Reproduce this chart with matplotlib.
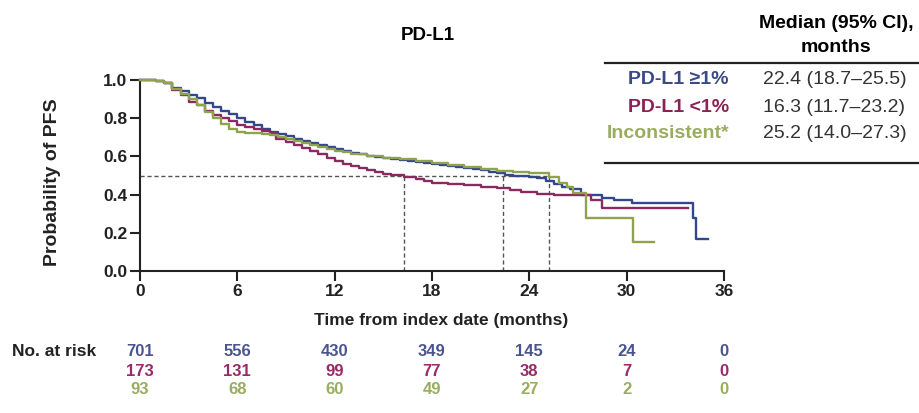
import matplotlib
matplotlib.use("Agg")
import matplotlib.pyplot as plt
from matplotlib.transforms import blended_transform_factory

plt.rcParams["font.family"] = ["Liberation Sans", "DejaVu Sans"]

# Kaplan-Meier step estimates (months, survival probability)
t_pos = [0, 1, 1.5, 2, 2.5, 3, 3.5, 4, 4.5, 5, 5.5, 6, 6.5, 7, 7.5, 8, 8.5, 9, 9.5, 10,
         10.5, 11, 11.5, 12, 12.5, 13, 13.5, 14, 14.5, 15, 15.5, 16, 16.5, 17, 17.5, 18,
         18.5, 19, 19.5, 20, 20.5, 21, 21.5, 22, 22.5, 23, 23.5, 24, 24.5, 25, 25.5, 26,
         26.5, 27.2, 28.5, 29.2, 30.3, 34.1, 34.3, 35.0]
s_pos = [1.0, 0.995, 0.985, 0.96, 0.94, 0.92, 0.905, 0.88, 0.86, 0.84, 0.82, 0.80, 0.78,
         0.765, 0.745, 0.73, 0.715, 0.705, 0.69, 0.68, 0.67, 0.66, 0.65, 0.64, 0.63, 0.62,
         0.61, 0.60, 0.595, 0.59, 0.585, 0.58, 0.575, 0.57, 0.565, 0.56, 0.555, 0.55, 0.545,
         0.54, 0.535, 0.53, 0.52, 0.515, 0.505, 0.50, 0.495, 0.49, 0.485, 0.47, 0.455, 0.44,
         0.43, 0.40, 0.38, 0.37, 0.355, 0.28, 0.17, 0.17]

t_neg = [0, 1, 1.5, 2, 2.5, 3, 3.5, 4, 4.5, 5, 5.5, 6, 6.5, 7, 7.5, 8, 8.4, 9, 9.5, 10,
         10.5, 11, 11.5, 12, 12.5, 13, 13.5, 14, 14.5, 15, 15.5, 16.3, 17, 17.5, 18, 19,
         20, 21, 22, 22.8, 23.5, 24.5, 25.5, 27.8, 28.5, 33.8]
s_neg = [1.0, 0.995, 0.985, 0.95, 0.92, 0.885, 0.87, 0.84, 0.815, 0.80, 0.785, 0.765,
         0.755, 0.745, 0.735, 0.725, 0.69, 0.675, 0.66, 0.645, 0.63, 0.61, 0.59, 0.575,
         0.56, 0.55, 0.54, 0.53, 0.52, 0.51, 0.505, 0.49, 0.48, 0.47, 0.46, 0.455, 0.45,
         0.44, 0.435, 0.425, 0.415, 0.405, 0.40, 0.37, 0.33, 0.33]

t_inc = [0, 1, 1.5, 2, 2.5, 3, 3.5, 4, 4.5, 5, 5.5, 6, 6.5, 7, 7.5, 8, 8.5, 9, 9.5, 10,
         10.5, 11, 11.5, 12, 12.5, 13, 13.5, 14, 15, 16, 17, 18, 19, 20, 21, 22, 23, 24,
         25.2, 25.8, 26.3, 26.7, 27.5, 30.4, 31.7]
s_inc = [1.0, 0.995, 0.985, 0.955, 0.925, 0.90, 0.87, 0.835, 0.80, 0.77, 0.745, 0.73,
         0.725, 0.72, 0.715, 0.71, 0.70, 0.69, 0.68, 0.67, 0.66, 0.65, 0.64, 0.63, 0.625,
         0.615, 0.61, 0.60, 0.59, 0.585, 0.575, 0.565, 0.555, 0.545, 0.535, 0.525, 0.52,
         0.515, 0.49, 0.46, 0.44, 0.41, 0.28, 0.15, 0.15]

groups = ["PD-L1 ≥1%", "PD-L1 <1%", "Inconsistent*"]
medians = [22.4, 16.3, 25.2]
median_text = ["22.4 (18.7–25.5)", "16.3 (11.7–23.2)", "25.2 (14.0–27.3)"]
risk_times = [0, 6, 12, 18, 24, 30, 36]
at_risk = [
    [701, 556, 430, 349, 145, 24, 0],
    [173, 131, 99, 77, 38, 7, 0],
    [93, 68, 60, 49, 27, 2, 0],
]

line_colors = ["#34478c", "#8a2a60", "#8fa24c"]
label_colors = ["#3a4a86", "#8a2256", "#9aac60"]
risk_colors = ["#4a5590", "#9a2a66", "#98ae5e"]

W, H = 920, 413
fig = plt.figure(figsize=(W / 100, H / 100), dpi=100)

# plot area in pixels: x 140..722, y 80..271
ax = fig.add_axes([140 / W, 1 - 271 / H, (724 - 140) / W, (271 - 80) / H])

curves = [(t_pos, s_pos), (t_neg, s_neg), (t_inc, s_inc)]
for (t, s), c in zip(curves, line_colors):
    ax.step(t, s, where="post", color=c, lw=1.7, clip_on=False, zorder=3)

# median reference lines
dash = dict(color="#555555", lw=1.0, ls=(0, (3, 2)), zorder=1)
ax.plot([0, max(medians)], [0.5, 0.5], **dash)
for m in medians:
    ax.plot([m, m], [0, 0.5], **dash)

ax.set_xlim(0, 36)
ax.set_ylim(0, 1.0)
ax.set_xticks(risk_times)
ax.set_yticks([0, 0.2, 0.4, 0.6, 0.8, 1.0])
ax.set_yticklabels(["0.0", "0.2", "0.4", "0.6", "0.8", "1.0"])
for side in ["top", "right"]:
    ax.spines[side].set_visible(False)
for side in ["left", "bottom"]:
    ax.spines[side].set_linewidth(1.5)
    ax.spines[side].set_color("#222222")
ax.tick_params(direction="out", length=7, width=1.5, color="#222222",
               labelsize=12.5, pad=2)
for lbl in ax.get_xticklabels() + ax.get_yticklabels():
    lbl.set_fontweight("bold")
    lbl.set_color("#222222")

# overlay in pixel coordinates for free-standing text and the table
ov = fig.add_axes([0, 0, 1, 1], facecolor="none")
ov.set_xlim(0, W)
ov.set_ylim(H, 0)
ov.axis("off")

ov.text(53, 182, "Probability of PFS", rotation=90, ha="center", va="center",
        fontsize=14, fontweight="bold", color="#222222")
ov.text(428, 35, "PD-L1", ha="center", va="center", fontsize=13.5, fontweight="bold")
ov.text(441, 320, "Time from index date (months)", ha="center", va="center",
        fontsize=12.5, fontweight="bold", color="#222222")

# median table
ov.text(836, 23, "Median (95% CI),", ha="center", va="center", fontsize=14, fontweight="bold")
ov.text(836, 47, "months", ha="center", va="center", fontsize=14, fontweight="bold")
ov.plot([605, W], [63, 63], color="#222222", lw=1.6)
ov.plot([605, W], [163, 163], color="#222222", lw=1.6)
row_y = [80, 107, 133]
for y, g, txt, c in zip(row_y, groups, median_text, label_colors):
    ov.text(729, y, g, ha="right", va="center", fontsize=14, fontweight="bold", color=c)
    ov.text(763, y, txt, ha="left", va="center", fontsize=14, color="#333333")

# number at risk rows, aligned to the time axis
tr = blended_transform_factory(ax.transData, ov.transData)
ov.text(12, 352, "No. at risk", ha="left", va="center", fontsize=12.5, fontweight="bold",
        color="#222222")
risk_y = [352, 371, 390]
for y, counts, c in zip(risk_y, at_risk, risk_colors):
    for t, n in zip(risk_times, counts):
        ov.text(t, y, str(n), transform=tr, ha="center", va="center", fontsize=12,
                fontweight="bold", color=c)

fig.savefig("out.png", dpi=100, facecolor="white")
